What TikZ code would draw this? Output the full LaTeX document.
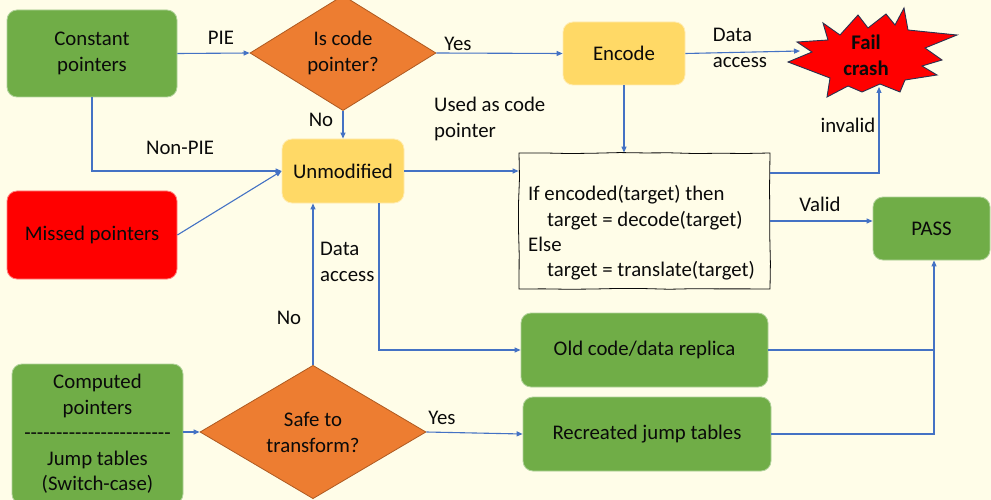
\documentclass[tikz,border=0pt]{standalone}
\usepackage{fontspec}
\setmainfont{Carlito}[Ligatures=TeXOff]
\usetikzlibrary{shapes.geometric,arrows.meta,decorations.pathmorphing}
\definecolor{bgcream}{RGB}{255,253,232}
\definecolor{leaf}{RGB}{112,173,71}
\definecolor{butter}{RGB}{255,217,102}
\definecolor{tang}{RGB}{237,125,49}
\definecolor{tangedge}{RGB}{174,90,33}
\definecolor{alarm}{RGB}{255,0,0}
\definecolor{wire}{RGB}{68,114,196}
\definecolor{ink}{RGB}{10,10,10}
\definecolor{staredge}{RGB}{40,50,80}
\pgfmathsetseed{7}
\begin{document}
\begin{tikzpicture}[x=1pt,y=-1pt,
  every node/.style={font=\fontsize{20.8}{26}\selectfont, text=ink},
  box/.style={rectangle, rounded corners=10pt, line width=0.8pt, inner sep=0pt, align=center},
  gbox/.style={box, fill=leaf, draw=leaf!55!white},
  ybox/.style={box, fill=butter, draw=butter!50!white},
  rbox/.style={box, fill=alarm, draw=alarm!50!white},
  decide/.style={diamond, fill=tang, draw=tangedge, line width=0.8pt, inner sep=0pt, align=center},
  arr/.style={draw=wire, line width=1.1pt, -{Triangle[length=6pt,width=5pt]}},
  conn/.style={draw=wire, line width=1.1pt},
  lbl/.style={inner sep=0pt, align=left},
]
\clip (0,0) rectangle (991,500);
\fill[bgcream] (0,0) rectangle (991,500);

% boxes and decisions
\node[gbox, minimum width=170pt, minimum height=87pt] (cp) at (92,53.5) {Constant\\pointers};
\node[decide, minimum width=186pt, minimum height=96pt] (q1) at (343,53) {Is code\\pointer?};
\node[ybox, minimum width=122pt, minimum height=63pt] (enc) at (624,53.5) {Encode};
\node[ybox, minimum width=122pt, minimum height=64pt] (unm) at (343,171) {Unmodified};
\node[rbox, minimum width=170pt, minimum height=88pt] (mis) at (92,235) {Missed pointers};
\node[gbox, minimum width=117pt, minimum height=63pt] (pass) at (931.5,228.5) {PASS};
\node[gbox, minimum width=247pt, minimum height=74pt] (old) at (644.5,350) {Old code/data replica};
\node[gbox, minimum width=248pt, minimum height=74pt] (rec) at (647,434) {Recreated jump tables};
\node[gbox, minimum width=171pt, minimum height=140pt, font=\fontsize{20.8}{25.5}\selectfont] (comp) at (97.5,434)
  {Computed\\pointers\\-----------------------\\Jump tables\\(Switch-case)};
\node[decide, minimum width=226pt, minimum height=96pt] (q2) at (313,432) {Safe to\\transform?};

% sketched decision box
\node[draw=ink, fill=bgcream, line width=0.8pt, minimum width=251pt, minimum height=136pt,
  decorate, decoration={random steps, segment length=25pt, amplitude=0.6pt}] (ifb) at (644.5,221) {};
\node[lbl, anchor=west, font=\fontsize{20.8}{25.3}\selectfont] (ift) at (528,233)
  {If encoded(target) then\\\hspace*{19pt}target = decode(target)\\Else\\\hspace*{19pt}target = translate(target)};

% crash burst
\draw[fill=alarm, draw=staredge, line width=0.9pt]
  (823,23) -- (840,35) -- (858,15) -- (868,28) -- (886,14) -- (895,25) -- (904,8)
  -- (908,30) -- (957,35) -- (925,48) -- (942,60) -- (922,66) -- (937,75) -- (905,80)
  -- (900,92) -- (880,84) -- (862,92) -- (848,86) -- (827,97) -- (830,78) -- (788,62)
  -- (812,52) -- (797,42) -- (828,40) -- cycle;
\node[align=center, inner sep=0pt, font=\fontsize{20.8}{26}\selectfont\bfseries] (fail) at (866,55) {Fail\\crash};
\coordinate (failL) at (800,51);
\coordinate (failB) at (879,87);

% connectors
\draw[arr] (cp.east) -- (q1.west);
\node[lbl] at (221,38) {PIE};
\draw[arr] (q1.east) -- (enc.west);
\node[lbl] at (458,44) {Yes};
\draw[arr] (enc.east) -- (failL);
\node[lbl] at (740,48) {Data\\access};
\draw[arr] (q1.south) -- (unm.north);
\node[lbl] at (321,120) {No};
\draw[arr] (cp.south) |- (unm.west);
\node[lbl] at (180,148) {Non-PIE};
\draw[arr] (mis.east) -- (unm.west);
\draw[arr] (unm.east) -- (unm.east -| ifb.west);
\node[lbl, anchor=west] at (434,119) {Used as code\\pointer};
\draw[arr] (enc.south) -- (enc.south |- ifb.north);
\draw[arr] (ifb.east |- 0,173) -| (failB);
\node[lbl] at (848,125) {invalid};
\draw[arr] (ifb.east |- 0,221) -- (pass.west |- 0,221);
\node[lbl] at (820,204) {Valid};
\draw[arr] ([xshift=36pt]unm.south) |- (old.west);
\node[lbl, anchor=west] at (320,262) {Data\\access};
\draw[arr] (q2.north) -- (q2.north |- unm.south);
\node[lbl] at (289,318) {No};
\draw[arr] (comp.east |- q2.west) -- (q2.west);
\draw[arr] (q2.east) -- (rec.west);
\node[lbl] at (442,418) {Yes};
\draw[conn] (old.east) -- (old.east -| 934,0);
\draw[arr] (rec.east) -| ([xshift=2.5pt]pass.south);
\end{tikzpicture}
\end{document}
